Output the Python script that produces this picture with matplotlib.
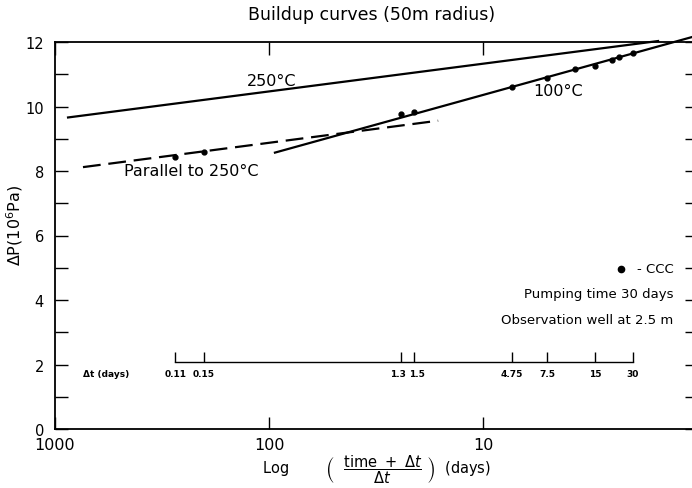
import numpy as np
import matplotlib
matplotlib.use("Agg")
import matplotlib.pyplot as plt
import matplotlib.transforms as mtransforms

plt.rcParams['font.family'] = ['DejaVu Sans']

# Datos
pumping_time = 30  # dias
dt_points = [0.11, 0.15, 1.3, 1.5, 4.75, 7.5, 11, 15, 20, 23, 30]
dp_points = [8.44, 8.59, 9.78, 9.84, 10.62, 10.87, 11.16, 11.25, 11.44, 11.53, 11.66]

# Rectas (extremos en x = (t+dt)/dt, y = dP)
line_250_x = [869, 1.52]
line_250_y = [9.66, 12.03]
line_100_x = [93.8, 1.06]
line_100_y = [8.57, 12.15]
parallel_x = [740, 16.2]
parallel_y = [8.12, 9.56]

# Escala secundaria de dt
dt_ticks = [0.11, 0.15, 1.3, 1.5, 4.75, 7.5, 15, 30]
dt_labels = ["0.11", "0.15", "1.3", "1.5", "4.75", "7.5", "15", "30"]
dt_label_shift = [0, 0, -3, 3, 0, 0, 0, 0]  # px, para que 1.3 y 1.5 no se pisen

x_ticks = [1000, 100, 10]
x_ticklabels = ["1000", "100", "10"]
y_ticks = [0, 2, 4, 6, 8, 10, 12]

def ratio(dt):
    return (pumping_time + np.asarray(dt, dtype=float)) / np.asarray(dt, dtype=float)

fig = plt.figure(figsize=(6.92, 4.89), dpi=100)
ax = fig.add_axes([55 / 692, 1 - 430 / 489, 642 / 692, 387 / 489])

ax.set_xscale("log")
ax.set_xlim(1000, 1)
ax.set_ylim(0, 12)

# Curvas
ax.plot(line_250_x, line_250_y, color="black", lw=1.6, clip_on=False)
ax.plot(line_100_x, line_100_y, color="black", lw=1.6, clip_on=False)
ax.plot(parallel_x, parallel_y, color="black", lw=1.6, dashes=(8, 3.5))
ax.plot(ratio(dt_points), dp_points, "o", color="black", ms=3.5)

# Etiquetas de las curvas
ax.text(96.8, 10.8, "250°C", ha="center", va="center", fontsize=11.5)
ax.text(4.47, 10.5, "100°C", ha="center", va="center", fontsize=11.5)
ax.text(231, 8.0, "Parallel to 250°C", ha="center", va="center", fontsize=11.5)

# Leyenda
ax.plot([2.26], [4.97], "o", color="black", ms=4.5)
ax.text(1.29, 4.97, "- CCC", ha="right", va="center", fontsize=9.5)
ax.text(1.29, 4.19, "Pumping time 30 days", ha="right", va="center", fontsize=9.5)
ax.text(1.29, 3.40, "Observation well at 2.5 m", ha="right", va="center", fontsize=9.5)

# Escala secundaria de dt
dt_y = 2.08
xs = ratio(dt_ticks)
ax.plot([xs[0], xs[-1]], [dt_y, dt_y], color="black", lw=1.0)
ax.vlines(xs, dt_y, dt_y + 0.3, color="black", lw=1.0)
for xv, lab, sh in zip(xs, dt_labels, dt_label_shift):
    tr = ax.transData + mtransforms.Affine2D().translate(sh, 0)
    ax.text(xv, dt_y - 0.36, lab, ha="center", va="center", fontsize=6.5,
            fontweight="bold", transform=tr)
ax.text(578, dt_y - 0.36, "Δt (days)", ha="center", va="center", fontsize=6.5, fontweight="bold")

# Ejes y marcas
ax.set_xticks(x_ticks)
ax.set_xticklabels(x_ticklabels)
ax.xaxis.set_minor_locator(matplotlib.ticker.NullLocator())
ax.set_yticks(y_ticks)
ax.set_yticks(np.arange(1, 12, 2), minor=True)
ax.tick_params(axis="both", which="both", direction="in", length=9, width=1.0,
               top=True, right=True)
ax.tick_params(axis="x", labelsize=11.5, pad=6)
ax.tick_params(axis="y", labelsize=10.5, pad=8)
ax.spines["right"].set_visible(False)
for s in ["left", "bottom", "top"]:
    ax.spines[s].set_linewidth(1.3)

ax.set_ylabel("ΔP(10$^6$Pa)", fontsize=11.5)
ax.yaxis.set_label_coords(-0.047, 0.53)
ax.set_xlabel(r"Log        $\left(\ \ \dfrac{\mathrm{time}\ +\ \Delta t}{\Delta t}\ \right)$  (days)",
              fontsize=10.5, labelpad=0)
fig.text(372 / 692, 1 - 15 / 489, "Buildup curves (50m radius)", ha="center", va="center",
         fontsize=12.5)

plt.savefig("out.png", dpi=100)
